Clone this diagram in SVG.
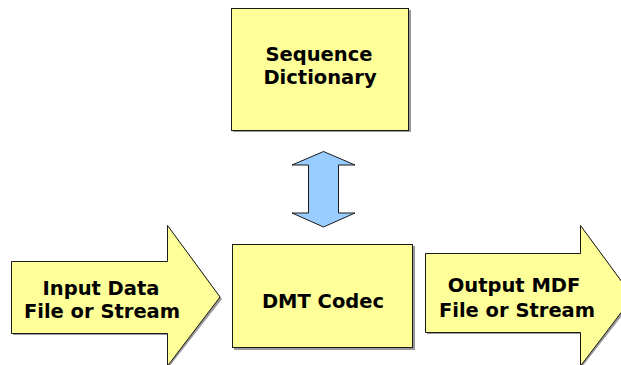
<svg xmlns="http://www.w3.org/2000/svg" width="621" height="365" viewBox="0 0 621 365">
  <style>
    .shape { fill: #FFFF99; stroke: #1a1a1a; stroke-width: 1; }
    .shadow { fill: #9a9a9a; }
    .link { fill: #99CCFF; stroke: #1a1a1a; stroke-width: 1; }
    .label { font-family: "DejaVu Sans", Verdana, sans-serif; font-weight: bold; font-size: 19.5px; fill: #000; text-anchor: middle; }
  </style>
  <rect width="621" height="365" fill="#ffffff"/>

  <g id="sequence-dictionary">
    <rect class="shadow" x="233" y="10" width="178" height="122"/>
    <rect class="shape" x="231.5" y="8.5" width="177" height="122"/>
    <text class="label" x="319" y="61">Sequence</text>
    <text class="label" x="320" y="84">Dictionary</text>
  </g>

  <g id="dmt-codec">
    <rect class="shadow" x="234" y="246" width="181" height="104"/>
    <rect class="shape" x="232.5" y="244.5" width="180" height="103"/>
    <text class="label" x="323" y="308">DMT Codec</text>
  </g>

  <g id="input-data">
    <polygon class="shadow" points="13,263 169,263 169,227 222,299 169,367 169,335 13,335"/>
    <polygon class="shape" points="11.5,261.5 167.5,261.5 167.5,225.5 220,297 167.5,366 167.5,333.5 11.5,333.5"/>
    <text class="label" x="101" y="295">Input Data</text>
    <text class="label" x="102" y="318">File or Stream</text>
  </g>

  <g id="output-mdf">
    <polygon class="shadow" points="427,255 582,255 582,227 635,299 582,367 582,334 427,334"/>
    <polygon class="shape" points="425.5,253.5 580.5,253.5 580.5,225.5 633,297 580.5,366 580.5,332.5 425.5,332.5"/>
    <text class="label" x="514" y="292">Output MDF</text>
    <text class="label" x="517" y="317">File or Stream</text>
  </g>

  <g id="connectors">
    <polygon class="link" points="323.5,151.5 355,165 338.5,165 338.5,213 355,213 323.5,227 292,213 308.5,213 308.5,165 292,165"/>
  </g>
</svg>
